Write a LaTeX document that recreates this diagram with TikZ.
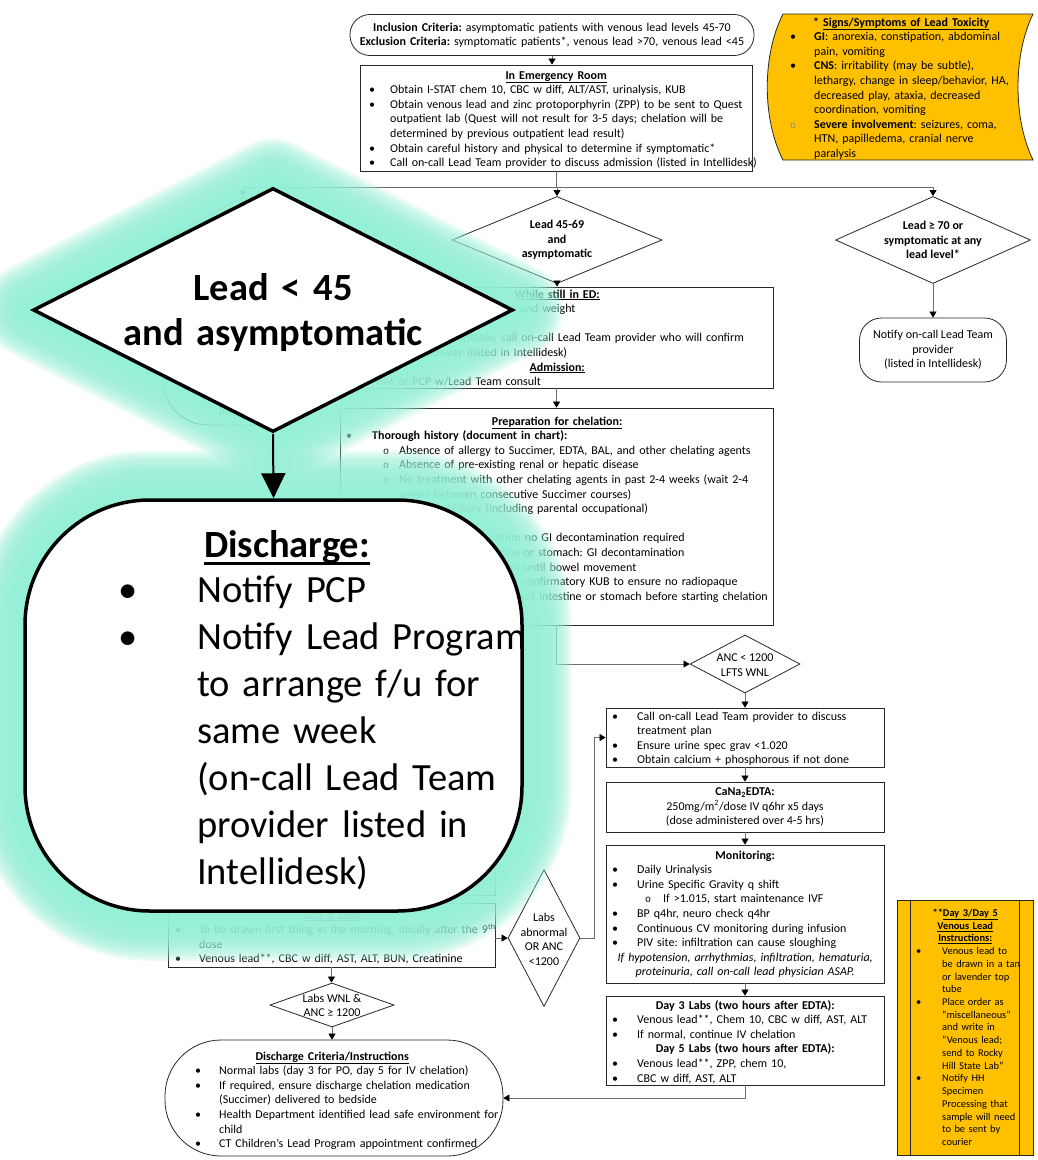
\documentclass[tikz,border=0pt]{standalone}
\usepackage{fontspec}
\setmainfont{Carlito}
\newfontfamily\cour{Liberation Mono}
\usetikzlibrary{arrows.meta,shapes.geometric}
\setlength{\parindent}{0pt}
\frenchspacing

\definecolor{gold}{RGB}{255,192,0}
\definecolor{glowc}{RGB}{150,240,215}
\definecolor{wire}{RGB}{110,110,110}
\definecolor{edge}{RGB}{40,40,40}

% list helpers: bullet column of width \bw, continuation indent, hollow sub-bullet
\newlength\bw
\newcommand\bu{\makebox[\bw][l]{\textbullet}}
\newcommand\cn{\hspace*{\bw}}
\newcommand\co{{\cour\fontsize{10}{10}\selectfont o}}
\newcommand\sitem[2]{\hspace*{#1}\makebox[#2][l]{\co}}
\newcommand\ttl[2]{\leavevmode\hbox to #1{\hss#2\hss}}
\newcommand\ul[1]{\underline{#1}}
\newcommand\bigul[1]{\setbox0\hbox{#1}\rlap{\rule[-8pt]{\wd0}{2.8pt}}\box0}

\pgfdeclarelayer{glow}
\pgfdeclarelayer{front}
\pgfsetlayers{main,glow,front}

\tikzset{
  box/.style={draw=edge, line width=0.8pt, rectangle, inner sep=0pt, fill=white},
  term/.style={box, rounded corners=#1},
  dia/.style={draw=edge, line width=0.8pt, diamond, inner sep=0pt, fill=white},
  txt/.style 2 args={anchor=base west, inner sep=0pt, align=left, text width=#1,
      font=\fontsize{12}{14.6}\selectfont\setlength{\bw}{#2}},
  ctxt/.style={anchor=center, inner sep=0pt, align=center,
      font=\fontsize{12}{14.6}\selectfont},
  btxt/.style={ctxt, font=\fontsize{12}{14.6}\selectfont\bfseries},
  ln/.style={draw=wire, line width=0.7pt},
  arr/.style={ln, -{Triangle[length=6pt,width=7pt,color=black]}},
  bigshape/.style={draw=black, line width=3.5pt, fill=white, inner sep=0pt},
  halo/.style={draw=glowc, draw opacity=0.15, line join=round, line width=#1},
}

\begin{document}
\begin{tikzpicture}[x=1pt,y=-1pt]
\useasboundingbox (0,0) rectangle (1038,1160);
\fill[white] (0,0) rectangle (1038,1160);

% ---------- entry criteria and emergency room ----------
\node[term=20pt, minimum width=404pt, minimum height=41pt] (incl) at (552,35) {};
\node[ctxt, text width=420pt, anchor=base] (inclT) at (552,31)
  {\textbf{Inclusion Criteria:} asymptomatic patients with venous lead levels 45-70\\
   \textbf{Exclusion Criteria:} symptomatic patients*, venous lead >70, venous lead <45};

\node[box, minimum width=392pt, minimum height=106pt] (er) at (556,118) {};
\node[txt={460pt}{21pt}] (erT) at (369,79) {%
\ttl{374pt}{\textbf{\ul{In Emergency Room}}}\\
\bu Obtain I-STAT chem 10, CBC w diff, ALT/AST, urinalysis, KUB\\
\bu Obtain venous lead and zinc protoporphyrin (ZPP) to be sent to Quest\\
\cn outpatient lab (Quest will not result for 3-5 days; chelation will be\\
\cn determined by previous outpatient lead result)\\
\bu Obtain careful history and physical to determine if symptomatic*\\
\bu Call on-call Lead Team provider to discuss admission (listed in Intellidesk)};
\draw[arr] (incl.south) -- (incl.south |- er.north);

% ---------- signs of toxicity (stored-data shape) ----------
\path[draw=edge, line width=0.8pt, fill=gold] (783,14) -- (1033,14)
  .. controls (1013,55) and (1013,119) .. (1033,160) -- (783,160)
  .. controls (762,119) and (762,55) .. (783,14) -- cycle;
\node[txt={300pt}{24pt}] (sgT) at (790,26) {%
\hspace*{23pt}\textbf{* \ul{Signs/Symptoms of Lead Toxicity}}\\
\bu\textbf{GI}: anorexia, constipation, abdominal\\
\cn pain, vomiting\\
\bu\textbf{CNS}: irritability (may be subtle),\\
\cn lethargy, change in sleep/behavior, HA,\\
\cn decreased play, ataxia, decreased\\
\cn coordination, vomiting\\
\makebox[\bw][l]{\color{black!45}\co}\textbf{Severe involvement}: seizures, coma,\\
\cn HTN, papilledema, cranial nerve\\
\cn paralysis};

% ---------- three lead-level branches ----------
\node[dia, minimum width=160pt, minimum height=86pt] (lt) at (243,240) {};
\node[dia, minimum width=210pt, minimum height=87pt] (d1) at (557,240) {};
\node[btxt] (d1T) at (557,240) {Lead 45-69\\and\\asymptomatic};
\node[dia, minimum width=195pt, minimum height=87pt] (d2) at (933,240) {};
\node[btxt] (d2T) at (933,240) {Lead ≥ 70 or\\symptomatic at any\\lead level*};

\coordinate (br) at (0,187);
\draw[ln] (er.south) -- (er.south |- br);
\draw[ln] (lt.north |- br) -- (d2.north |- br);
\draw[arr] (lt.north |- br) -- (lt.north);
\draw[arr] (d1.north |- br) -- (d1.north);
\draw[arr] (d2.north |- br) -- (d2.north);

% lead < 45 outcome
\node[term=45pt, minimum width=160pt, minimum height=125pt] (sd) at (243,362.5) {};
\node[txt={140pt}{27pt}] (sdT) at (192,386) {%
\cn (on-call Lead Team\\
\cn provider listed in\\
\cn Intellidesk)};
\draw[arr] (lt.south) -- (sd.north);

% lead >= 70 outcome
\node[term=22pt, minimum width=147pt, minimum height=64pt] (nt) at (933,350) {};
\node[ctxt] (ntT) at (933,350) {Notify on-call Lead Team\\provider\\(listed in Intellidesk)};
\draw[arr] (d2.south) -- (d2.south |- nt.north);

% ---------- lead 45-69 pathway ----------
\node[box, minimum width=433pt, minimum height=101pt] (wb) at (556.5,337.5) {};
\node[txt={470pt}{26pt}] (wbT) at (346,298) {%
\ttl{422pt}{\textbf{\ul{While still in ED:}}}\\
\bu Obtain and document height and weight\\
\mbox{}\\
\bu If all labs are acceptable, call on-call Lead Team provider who will confirm\\
\cn chelation pathway (listed in Intellidesk)\\
\ttl{422pt}{\textbf{\ul{Admission:}}}\\
\hspace*{30pt}HM or PCP w/Lead Team consult};
\draw[arr] (d1.south) -- (d1.south |- wb.north);

\node[box, minimum width=433pt, minimum height=217pt] (pb) at (556.5,516.5) {};
\node[txt={480pt}{26pt}] (pbT) at (346,425) {%
\ttl{422pt}{\textbf{\ul{Preparation for chelation:}}}\\
\bu\textbf{Thorough history (document in chart):}\\
\sitem{37pt}{16pt}Absence of allergy to Succimer, EDTA, BAL, and other chelating agents\\
\sitem{37pt}{16pt}Absence of pre-existing renal or hepatic disease\\
\sitem{37pt}{16pt}No treatment with other chelating agents in past 2-4 weeks (wait 2-4\\
\hspace*{53pt}weeks between consecutive Succimer courses)\\
\sitem{37pt}{16pt}Exposure history (including parental occupational)\\
\bu\textbf{KUB:}\\
\sitem{37pt}{16pt}If radiopaque in rectum: no GI decontamination required\\
\sitem{37pt}{16pt}If lead in small intestine or stomach: GI decontamination\\
\hspace*{53pt}with polyethylene glycol until bowel movement\\
\sitem{37pt}{16pt}Will require subsequent confirmatory KUB to ensure no radiopaque\\
\hspace*{53pt}material remaining in small intestine or stomach before starting chelation\\
\sitem{37pt}{16pt}Per Lead Team discretion};
\draw[arr] (wb.south) -- (pb.north);

% ---------- EDTA branch ----------
\node[dia, minimum width=110pt, minimum height=58pt] (anc) at (745,664) {};
\node[ctxt] (ancT) at (745,665) {ANC < 1200\\LFTS WNL};
\draw[arr] (pb.south) |- (anc.west);

\node[box, minimum width=278pt, minimum height=59pt] (cb) at (745,737.5) {};
\node[txt={320pt}{25pt}] (cbT) at (612,720) {%
\bu Call on-call Lead Team provider to discuss\\
\cn treatment plan\\
\bu Ensure urine spec grav <1.020\\
\bu Obtain calcium + phosphorous if not done};
\draw[arr] (anc.south) -- (cb.north);

\node[box, minimum width=278pt, minimum height=50pt] (ed) at (745,807) {};
\node[ctxt] (edT) at (745,807) {\textbf{CaNa\textsubscript{2}EDTA:}\\
  250mg/m\textsuperscript{2}/dose IV q6hr x5 days\\(dose administered over 4-5 hrs)};
\draw[arr] (cb.south) -- (ed.north);

\node[box, minimum width=278pt, minimum height=138pt] (mo) at (745,914) {};
\node[txt={320pt}{25pt}] (moT) at (612,859) {%
\ttl{266pt}{\textbf{Monitoring:}}\\
\bu Daily Urinalysis\\
\bu Urine Specific Gravity q shift\\
\sitem{33pt}{18pt}If >1.015, start maintenance IVF\\
\bu BP q4hr, neuro check q4hr\\
\bu Continuous CV monitoring during infusion\\
\bu PIV site: infiltration can cause sloughing\\
\ttl{266pt}{\textit{If hypotension, arrhythmias, infiltration, hematuria,}}\\
\ttl{266pt}{\textit{proteinuria, call on-call lead physician ASAP.}}};
\draw[arr] (ed.south) -- (mo.north);

\node[box, minimum width=278pt, minimum height=89pt] (d3) at (745,1040.5) {};
\node[txt={320pt}{25pt}] (d3T) at (612,1009) {%
\ttl{266pt}{\textbf{Day 3 Labs (two hours after EDTA):}}\\
\bu Venous lead**, Chem 10, CBC w diff, AST, ALT\\
\bu If normal, continue IV chelation\\
\ttl{266pt}{\textbf{Day 5 Labs (two hours after EDTA):}}\\
\bu Venous lead**, ZPP, chem 10,\\
\bu CBC w diff, AST, ALT};
\draw[arr] (mo.south) -- (d3.north);

% ---------- oral branch, day 5 labs and discharge ----------
\node[box, minimum width=327pt, minimum height=105pt] (sc) at (331.5,842.5) {};
\node[box, minimum width=327pt, minimum height=64pt] (d5) at (331.5,935) {};
\node[txt={380pt}{24pt}] (d5T) at (175,919) {%
\ttl{314pt}{\textbf{\ul{DAY 5 Labs}}}\\
\bu To be drawn first thing in the morning, ideally after the 9\textsuperscript{th}\\
\cn dose\\
\bu Venous lead**, CBC w diff, AST, ALT, BUN, Creatinine};
\draw[arr] (sc.south) -- (d5.north);

\node[dia, minimum width=72pt, minimum height=137pt] (lab) at (544,938) {};
\node[ctxt] (labT) at (544,939.5) {Labs\\abnormal\\OR ANC\\<1200};
\draw[arr] (d5.east |- lab.west) -- (lab.west);
\draw[arr] (lab.east) -- ++(14,0) |- (cb.west);

\node[dia, minimum width=124pt, minimum height=44pt] (wnl) at (332,1005) {};
\node[ctxt] (wnlT) at (332,1005.5) {Labs WNL \&\\ANC ≥ 1200};
\draw[arr] (d5.south) -- (d5.south |- wnl.north);

\node[term=56pt, minimum width=338pt, minimum height=116pt] (dcc) at (334,1098) {};
\node[txt={380pt}{24pt}] (dccT) at (195,1060) {%
\ttl{274pt}{\textbf{\ul{Discharge Criteria/Instructions}}}\\
\bu Normal labs (day 3 for PO, day 5 for IV chelation)\\
\bu If required, ensure discharge chelation medication\\
\cn (Succimer) delivered to bedside\\
\bu Health Department identified lead safe environment for\\
\cn child\\
\bu CT Children’s Lead Program appointment confirmed};
\draw[arr] (wnl.south) -- (wnl.south |- dcc.north);
\draw[arr] (d3.south) |- (dcc.east);

% ---------- venous lead instructions ----------
\node[box, fill=gold, minimum width=136pt, minimum height=255pt] (ins) at (965,1027.5) {};
\draw[draw=edge, line width=0.8pt] ([xshift=14pt]ins.north west) -- ([xshift=14pt]ins.south west);
\draw[draw=edge, line width=0.8pt] ([xshift=-14pt]ins.north east) -- ([xshift=-14pt]ins.south east);
\node[txt={140pt}{26pt}, font=\fontsize{10.4}{12.72}\selectfont\setlength{\bw}{26pt}] (insT) at (916,916.5) {%
\ttl{98pt}{\textbf{**\ul{Day 3/Day 5}}}\\
\ttl{98pt}{\textbf{\ul{Venous Lead}}}\\
\ttl{98pt}{\textbf{\ul{Instructions:}}}\\
\bu Venous lead to\\
\cn be drawn in a tan\\
\cn or lavender top\\
\cn tube\\
\bu Place order as\\
\cn “miscellaneous”\\
\cn and write in\\
\cn “Venous lead;\\
\cn send to Rocky\\
\cn Hill State Lab”\\
\bu Notify HH\\
\cn Specimen\\
\cn Processing that\\
\cn sample will need\\
\cn to be sent by\\
\cn courier};

% ---------- enlarged lead < 45 callout ----------
\begin{pgfonlayer}{front}
\node[bigshape, diamond, minimum width=480pt, minimum height=244pt] (big) at (273,310) {};
\node[anchor=base, inner sep=0pt, align=center, text width=470pt,
      font=\fontsize{38.5}{45}\selectfont\bfseries] (bigT) at (273,300.5)
  {Lead < 45\\and asymptomatic};
\node[bigshape, rectangle, rounded corners=125pt, minimum width=497pt, minimum height=411pt] (dis) at (273.5,705.5) {};
\draw[line width=2pt, -{Triangle[length=25pt,width=24pt]}] (big.south) -- (dis.north);
\node[anchor=base, inner sep=0pt, font=\fontsize{38.5}{47}\selectfont\bfseries] (disH) at (287,557)
  {\bigul{Discharge:}};
\node[anchor=base west, inner sep=0pt, align=left, text width=460pt,
      font=\fontsize{38.5}{47}\selectfont] (disT) at (118,602) {%
\makebox[79pt][l]{\textbullet}Notify PCP\\
\makebox[79pt][l]{\textbullet}Notify Lead Program\\
\hspace*{79pt}to arrange f/u for\\
\hspace*{79pt}same week\\
\hspace*{79pt}(on-call Lead Team\\
\hspace*{79pt}provider listed in\\
\hspace*{79pt}Intellidesk)};
\end{pgfonlayer}

% soft halo round the callout
\begin{pgfonlayer}{glow}
\foreach \w in {4,8,...,96}{
  \draw[halo=\w pt] (big.north) -- (big.east) -- (big.south) -- (big.west) -- cycle;
  \draw[halo=\w pt, rounded corners=125pt] (dis.north west) rectangle (dis.south east);
}
\end{pgfonlayer}
\end{tikzpicture}
\end{document}
